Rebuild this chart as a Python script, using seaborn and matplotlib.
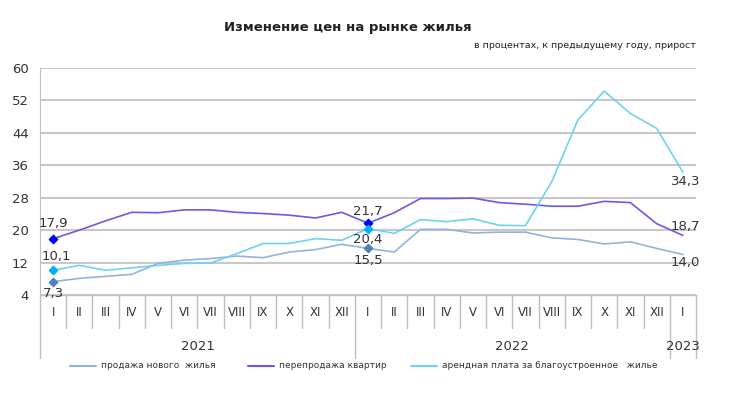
import pandas as pd
import seaborn as sns
import numpy as np
import matplotlib.pyplot as plt

months = ['I', 'II', 'III', 'IV', 'V', 'VI', 'VII', 'VIII', 'IX', 'X', 'XI', 'XII'] * 2 + ['I']
years = ['2021', '2022', '2023']
year_len = [12, 12, 1]

new_housing = [7.3, 8.1, 8.6, 9.1, 11.8, 12.6, 13.0, 13.6, 13.2, 14.6, 15.2, 16.5,
               15.5, 14.6, 20.2, 20.2, 19.3, 19.5, 19.5, 18.1, 17.7, 16.6, 17.1, 15.5, 14.0]
resale = [17.9, 20.0, 22.3, 24.4, 24.3, 25.0, 25.0, 24.4, 24.1, 23.7, 23.0, 24.4,
          21.7, 24.3, 27.8, 27.8, 27.9, 26.8, 26.4, 25.9, 25.9, 27.1, 26.8, 21.6, 18.7]
rent = [10.1, 11.3, 10.1, 10.7, 11.3, 11.8, 11.9, 14.2, 16.7, 16.7, 17.9, 17.5,
        20.4, 19.2, 22.6, 22.1, 22.8, 21.2, 21.1, 31.9, 47.2, 54.3, 48.8, 45.1, 34.3]

names = ['продажа нового  жилья', 'перепродажа квартир', 'арендная плата за благоустроенное   жилье']
line_colors = ['#95b3d7', '#6a5be6', '#6fd2ee']
marker_colors = ['#4f81bd', '#0000ff', '#00b0f0']

n = len(months)
df = pd.DataFrame({
    'pos': list(range(n)) * 3,
    'value': new_housing + resale + rent,
    'series': [names[0]] * n + [names[1]] * n + [names[2]] * n,
})

sns.set_style('white')
plt.rcParams['font.family'] = ['DejaVu Sans']

fig = plt.figure(figsize=(7.4, 3.95), dpi=100)
ax = fig.add_axes([40 / 740, 1 - 295 / 395, 656 / 740, 227 / 395])

sns.lineplot(data=df, x='pos', y='value', hue='series', palette=line_colors,
             linewidth=1.2, ax=ax, legend=False, zorder=3)

# markers at January points of 2021 and 2022
series_vals = [new_housing, resale, rent]
for vals, mc in zip(series_vals, marker_colors):
    ax.scatter([0, 12], [vals[0], vals[12]], marker='D', s=18, color=mc, zorder=4)

ax.set_xlim(-0.5, n - 0.5)
ax.set_ylim(4, 60)
ax.set_yticks(np.arange(4, 61, 8))
ax.set_xticks([])
ax.set_xlabel('')
ax.set_ylabel('')
ax.tick_params(axis='y', length=0, labelsize=9.5, colors='#333333', pad=8)
ax.grid(axis='y', color='#c8c8c8', linewidth=1.5)
ax.set_axisbelow(True)
for s in ['top', 'right', 'bottom']:
    ax.spines[s].set_visible(False)
ax.spines['left'].set_color('#bfbfbf')

def fmt(v):
    return f'{v:.1f}'.replace('.', ',')

lab = dict(fontsize=9.5, color='#333333', zorder=5)
ax.annotate(fmt(resale[0]), (0, resale[0]), xytext=(0, 6), textcoords='offset points', ha='center', va='bottom', **lab)
ax.annotate(fmt(rent[0]), (0, rent[0]), xytext=(2, 5), textcoords='offset points', ha='center', va='bottom', **lab)
ax.annotate(fmt(new_housing[0]), (0, new_housing[0]), xytext=(0, -4), textcoords='offset points', ha='center', va='top', **lab)
ax.annotate(fmt(resale[12]), (12, resale[12]), xytext=(0, 4), textcoords='offset points', ha='center', va='bottom', **lab)
ax.annotate(fmt(rent[12]), (12, rent[12]), xytext=(0, -3), textcoords='offset points', ha='center', va='top', **lab)
ax.annotate(fmt(new_housing[12]), (12, new_housing[12]), xytext=(0, -4), textcoords='offset points', ha='center', va='top', **lab)
ax.annotate(fmt(rent[-1]), (n - 1, rent[-1]), xytext=(2, -2), textcoords='offset points', ha='center', va='top', **lab)
ax.annotate(fmt(resale[-1]), (n - 1, resale[-1]), xytext=(2, 2), textcoords='offset points', ha='center', va='bottom', **lab)
ax.annotate(fmt(new_housing[-1]), (n - 1, new_housing[-1]), xytext=(2, -1), textcoords='offset points', ha='center', va='top', **lab)

# category axis drawn below the plot
trans = ax.get_xaxis_transform()
axis_h = 227 / 395 * 3.95 * 100
def ay(px):
    return -px / axis_h

ax.plot([-0.5, n - 0.5], [0, 0], transform=trans, color='#bfbfbf', lw=1, clip_on=False)
for i, m in enumerate(months):
    ax.text(i, ay(18), m, transform=trans, ha='center', va='center', fontsize=8.5, color='#333333')
bounds = np.cumsum([0] + year_len) - 0.5
for i in range(n + 1):
    x = i - 0.5
    bottom = ay(63) if x in bounds else ay(33)
    ax.plot([x, x], [0, bottom], transform=trans, color='#bfbfbf', lw=1, clip_on=False)
for y, start, length in zip(years, bounds[:-1], year_len):
    ax.text(start + length / 2, ay(51), y, transform=trans, ha='center', va='center', fontsize=9.5, color='#333333')

# legend
leg_x = [70, 248, 411]
for name, col, lx in zip(names, line_colors, leg_x):
    fig.add_artist(plt.Line2D([lx / 740, (lx + 26) / 740], [1 - 366 / 395] * 2, color=col, lw=1.5))
    fig.text((lx + 31) / 740, 1 - 366 / 395, name, fontsize=6.5, color='#333333', va='center')

fig.text(348 / 740, 1 - 28 / 395, 'Изменение цен на рынке жилья', ha='center', va='center',
         fontsize=9.5, fontweight='bold', color='#222222')
fig.text(696 / 740, 1 - 46 / 395, 'в процентах, к предыдущему году, прирост', ha='right', va='center',
         fontsize=6.8, color='#222222')

fig.savefig('out.png', dpi=100, facecolor='white')
